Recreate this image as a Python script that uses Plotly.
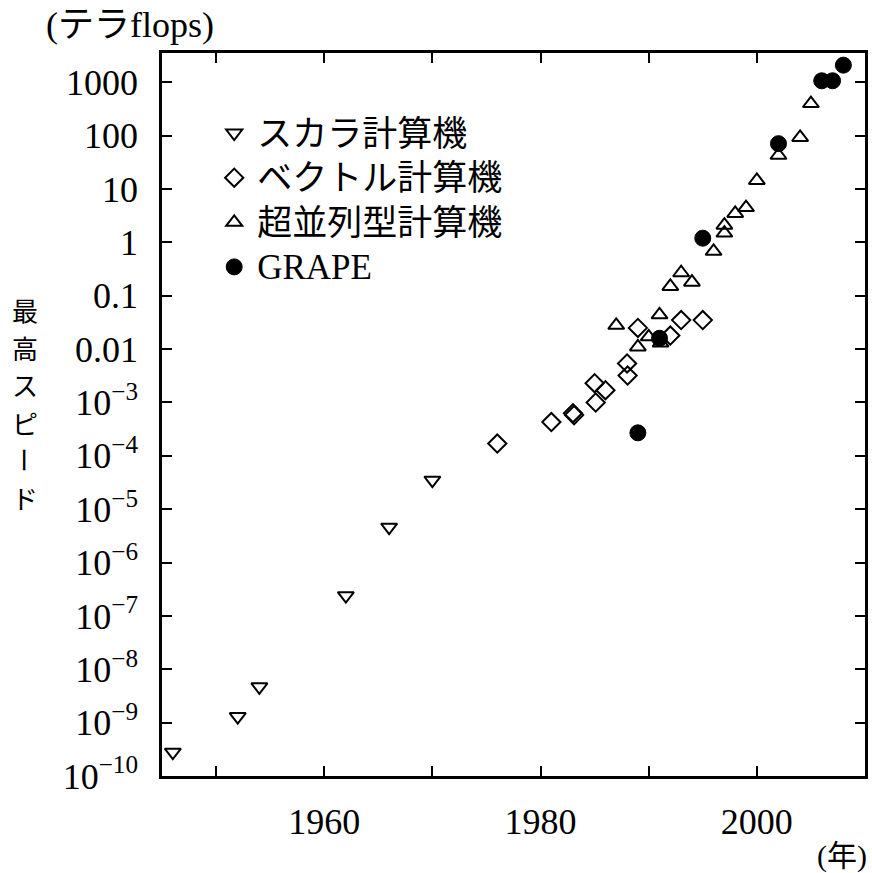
import plotly.graph_objects as go

# Peak speed of computers (teraflops) by year
scalar_year = [1946, 1952, 1954, 1962, 1966, 1970]
scalar_speed = [2.8e-10, 1.3e-9, 4.7e-9, 2.4e-7, 4.6e-6, 3.5e-5]

vector_year = [1976, 1981, 1983, 1983.1, 1985, 1986, 1985.1, 1988, 1988.05,
               1989, 1992, 1993, 1995]
vector_speed = [1.7e-4, 4.3e-4, 6.3e-4, 5.8e-4, 2.3e-3, 1.7e-3, 1.0e-3, 5.4e-3,
                3.2e-3, 0.025, 0.018, 0.035, 0.035]

mpp_year = [1987, 1989, 1990, 1991, 1991.1, 1992, 1993, 1994, 1996, 1997,
            1997, 1998, 1999, 2000, 2002, 2004, 2005]
mpp_speed = [0.028, 0.011, 0.017, 0.044, 0.013, 0.15, 0.27, 0.18, 0.68, 1.5,
             2.1, 3.5, 4.5, 14.5, 43, 93, 400]

grape_year = [1989, 1991, 1995, 2002, 2006, 2007, 2008]
grape_speed = [2.7e-4, 0.016, 1.2, 71, 1070, 1070, 2100]

series_names = ["スカラ計算機", "ベクトル計算機", "超並列型計算機", "GRAPE"]

x_tick_vals = [1950, 1960, 1970, 1980, 1990, 2000]
x_tick_text = ["", "1960", "", "1980", "", "2000"]

y_tick_vals = [10.0 ** e for e in range(-10, 4)]
y_tick_text = ["10<sup>−10</sup>", "10<sup>−9</sup>", "10<sup>−8</sup>",
               "10<sup>−7</sup>", "10<sup>−6</sup>", "10<sup>−5</sup>",
               "10<sup>−4</sup>", "10<sup>−3</sup>", "0.01", "0.1", "1",
               "10", "100", "1000"]

y_title = "最高スピード"

SERIF = "Liberation Serif, Noto Sans CJK JP"
JP = "Noto Sans CJK JP"


def legend_label(name):
    # larger glyphs than the legend's row spacing would give on its own
    return '<span style="font-size:35px">%s</span>' % name


def open_marker(symbol, size):
    return dict(symbol=symbol, size=size, color="black",
                line=dict(width=2, color="black"))


fig = go.Figure()

fig.add_trace(go.Scatter(x=scalar_year, y=scalar_speed, mode="markers",
                         name=legend_label(series_names[0]),
                         marker=open_marker("triangle-down-open", 14)))
fig.add_trace(go.Scatter(x=vector_year, y=vector_speed, mode="markers",
                         name=legend_label(series_names[1]),
                         marker=open_marker("diamond-open", 14)))
fig.add_trace(go.Scatter(x=mpp_year, y=mpp_speed, mode="markers",
                         name=legend_label(series_names[2]),
                         marker=open_marker("triangle-up-open", 14)))
fig.add_trace(go.Scatter(x=grape_year, y=grape_speed, mode="markers",
                         name=legend_label(series_names[3]),
                         marker=dict(symbol="circle", size=16, color="black",
                                     line=dict(width=1, color="black"))))

axis_common = dict(
    showline=True, linecolor="black", linewidth=2.5, mirror="allticks",
    ticks="inside", ticklen=10, tickwidth=1.5, tickcolor="black",
    showgrid=False, zeroline=False,
    tickfont=dict(family=SERIF, size=36, color="black"),
)

fig.update_xaxes(range=[1945, 2010], tickvals=x_tick_vals, ticktext=x_tick_text,
                 ticklabelstandoff=12, **axis_common)
fig.update_yaxes(type="log", range=[-10, 3.55], tickvals=y_tick_vals,
                 ticktext=y_tick_text, ticklabelstandoff=14, **axis_common)

fig.add_annotation(text="(テラflops)", xref="paper", yref="paper",
                   x=-0.045, y=1.0, yshift=28, xanchor="center", yanchor="middle",
                   showarrow=False, font=dict(family=SERIF, size=36, color="black"))

# Vertical axis title written top-to-bottom, one character per row; the
# long-vowel mark is turned a quarter turn, as in vertical Japanese writing.
title_font = dict(family=JP, size=26, color="black")
row_step = 37.5
title_center = 403.7  # pixel row of the title's middle
plot_top, plot_h = 53, 723
n = len(y_title)
for i, ch in enumerate(y_title):
    row_y = title_center + (i - (n - 1) / 2) * row_step
    fig.add_annotation(text=ch, xref="paper", yref="paper",
                       x=-0.195, y=1 - (row_y - plot_top) / plot_h,
                       xanchor="center", yanchor="middle", showarrow=False,
                       borderpad=0, textangle=90 if ch == "ー" else 0,
                       font=title_font)

fig.add_annotation(text="(年)", xref="paper", yref="paper",
                   x=1.0, y=0, xshift=4, yshift=-80, xanchor="right", yanchor="middle",
                   showarrow=False, font=dict(family=SERIF, size=30, color="black"))

fig.update_layout(
    width=872, height=873,
    margin=dict(l=162, r=4, t=53, b=97),
    paper_bgcolor="white", plot_bgcolor="white",
    showlegend=True,
    legend=dict(x=0.07, y=0.927, xanchor="left", yanchor="top",
                bgcolor="rgba(0,0,0,0)", borderwidth=0,
                font=dict(family=SERIF, size=32, color="black"),
                itemwidth=36, itemsizing="trace", tracegroupgap=0),
)

fig.write_html("out.html")
